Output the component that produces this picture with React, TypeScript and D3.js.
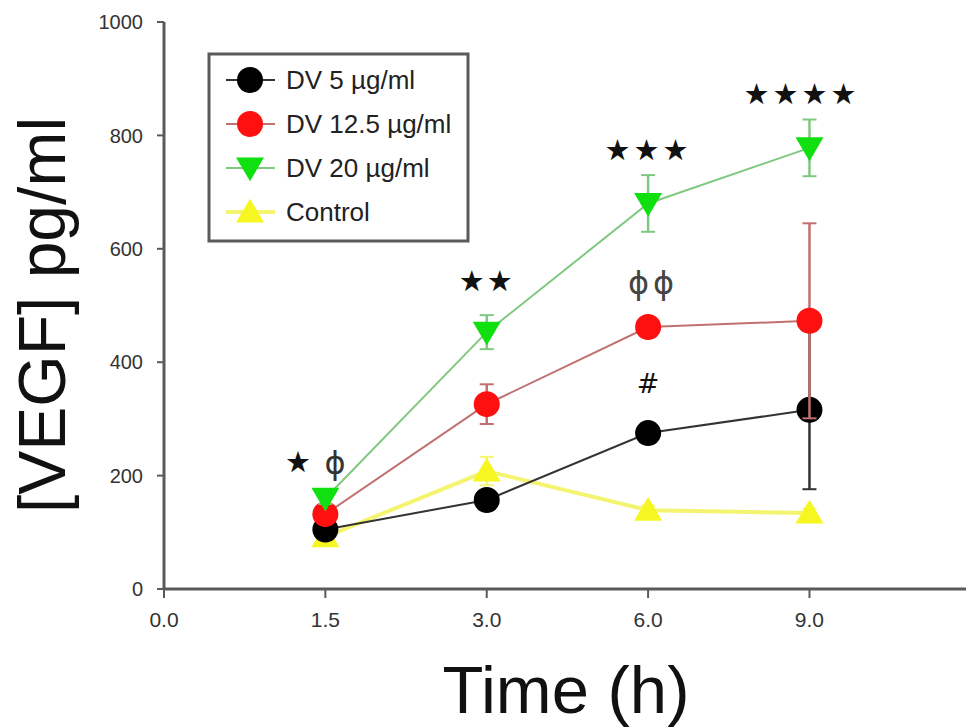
import React from "react";
import * as d3 from "d3";

const xLabels = ["0.0", "1.5", "3.0", "6.0", "9.0"];
const yTicks = [0, 200, 400, 600, 800, 1000];
const seriesNames = ["DV 5 µg/ml", "DV 12.5 µg/ml", "DV 20 µg/ml", "Control"];
// values at 1.5, 3.0, 6.0, 9.0 h
const dv5 = [105, 157, 275, 316];
const dv5Err = [8, 12, 10, 140];
const dv125 = [132, 326, 462, 473];
const dv125Err = [10, 35, 10, 172];
const dv20 = [160, 453, 680, 778];
const dv20Err = [10, 30, 50, 50];
const control = [92, 208, 139, 134];
const controlErr = [8, 25, 8, 8];

const W = 968;
const H = 727;

const styles = [
  { color: "#000000", line: "#333333", lw: 2, shape: "circle" },
  { color: "#ff1010", line: "#c07070", lw: 2, shape: "circle" },
  { color: "#10e010", line: "#80c880", lw: 2, shape: "down" },
  { color: "#f6f620", line: "#f4f470", lw: 4, shape: "up" },
];

export default function App() {
  const x = d3.scaleLinear().domain([0, 4.97]).range([164, 966]);
  const y = d3.scaleLinear().domain([0, 1000]).range([589, 22]);
  const series = [
    { name: seriesNames[0], v: dv5, e: dv5Err },
    { name: seriesNames[1], v: dv125, e: dv125Err },
    { name: seriesNames[2], v: dv20, e: dv20Err },
    { name: seriesNames[3], v: control, e: controlErr },
  ];
  const line = d3
    .line<number>()
    .x((_, i) => x(i + 1))
    .y((d) => y(d));
  const axisColor = "#5a5a5a";
  const font = "Liberation Sans, Arial, sans-serif";

  const marker = (shape: string, cx: number, cy: number, fill: string, key: string) => {
    if (shape === "circle")
      return <circle key={key} cx={cx} cy={cy} r={13} fill={fill} />;
    const s = 14;
    if (shape === "down")
      return (
        <path key={key} d={`M${cx - s},${cy - s * 0.75} L${cx + s},${cy - s * 0.75} L${cx},${cy + s * 0.95} Z`} fill={fill} />
      );
    return (
      <path key={key} d={`M${cx - s},${cy + s * 0.75} L${cx + s},${cy + s * 0.75} L${cx},${cy - s * 0.95} Z`} fill={fill} />
    );
  };

  // draw order: control bottom, then black, red, green
  const order = [3, 0, 1, 2];

  return (
    <svg width={W} height={H} style={{ position: "absolute", left: 0, top: 0, background: "#fff" }}>
      {/* axes */}
      <line x1={164} x2={164} y1={y(1000)} y2={y(0)} stroke={axisColor} strokeWidth={3} />
      <line x1={164} x2={966} y1={y(0)} y2={y(0)} stroke={axisColor} strokeWidth={3} />
      {yTicks.map((t) => (
        <g key={"yt" + t}>
          <line x1={157} x2={164} y1={y(t)} y2={y(t)} stroke={axisColor} strokeWidth={2} />
          <text x={143} y={y(t)} dy="0.36em" textAnchor="end" fontFamily={font} fontSize={20} fill="#333">
            {t}
          </text>
        </g>
      ))}
      {xLabels.map((l, i) => (
        <g key={"xt" + l}>
          <line x1={x(i)} x2={x(i)} y1={y(0)} y2={y(0) + 9} stroke={axisColor} strokeWidth={2} />
          <text x={x(i)} y={y(0) + 38} textAnchor="middle" fontFamily={font} fontSize={21} fill="#333">
            {l}
          </text>
        </g>
      ))}

      {/* series */}
      {order.map((si) => {
        const s = series[si];
        const st = styles[si];
        return (
          <g key={"s" + si}>
            <path d={line(s.v) || ""} fill="none" stroke={st.line} strokeWidth={st.lw} />
            {s.v.map((v, i) => (
              <g key={"e" + i}>
                <line x1={x(i + 1)} x2={x(i + 1)} y1={y(v - s.e[i])} y2={y(v + s.e[i])} stroke={st.line} strokeWidth={2.5} />
                <line x1={x(i + 1) - 7} x2={x(i + 1) + 7} y1={y(v + s.e[i])} y2={y(v + s.e[i])} stroke={st.line} strokeWidth={2} />
                <line x1={x(i + 1) - 7} x2={x(i + 1) + 7} y1={y(v - s.e[i])} y2={y(v - s.e[i])} stroke={st.line} strokeWidth={2} />
              </g>
            ))}
            {s.v.map((v, i) => marker(st.shape, x(i + 1), y(v), st.color, "m" + i))}
          </g>
        );
      })}

      {/* annotations */}
      <g fontFamily="DejaVu Sans, sans-serif" fill="#111">
        <text x={298} y={y(225)} dy="0.35em" textAnchor="middle" fontSize={29}>★</text>
        <text x={335} y={y(222)} dy="0.35em" textAnchor="middle" fontSize={32} fill="#333">ϕ</text>
        <text x={x(2)} y={y(543)} dy="0.35em" textAnchor="middle" fontSize={29} letterSpacing={2}>★★</text>
        <text x={x(3)} y={y(775)} dy="0.35em" textAnchor="middle" fontSize={29} letterSpacing={3}>★★★</text>
        <text x={x(4) - 8} y={y(873)} dy="0.35em" textAnchor="middle" fontSize={29} letterSpacing={3}>★★★★</text>
        <text x={x(3) + 5} y={y(540)} dy="0.35em" textAnchor="middle" fontSize={32} letterSpacing={4} fill="#444">ϕϕ</text>
        <text x={x(3)} y={y(363)} dy="0.35em" textAnchor="middle" fontSize={27}>#</text>
      </g>

      {/* legend */}
      <rect x={209} y={54} width={259} height={187} fill="#fff" stroke={axisColor} strokeWidth={3} />
      {seriesNames.map((n, i) => {
        const cy = 80 + i * 44;
        const st = styles[i];
        return (
          <g key={"lg" + i}>
            <line x1={226} x2={275} y1={cy} y2={cy} stroke={st.line} strokeWidth={st.lw} />
            {marker(st.shape, 250, cy, st.color, "lm" + i)}
            <text x={286} y={cy} dy="0.36em" fontFamily={font} fontSize={26} fill="#222">
              {n}
            </text>
          </g>
        );
      })}

      {/* titles */}
      <text x={566} y={713} textAnchor="middle" fontFamily={font} fontSize={67} fill="#111">
        Time (h)
      </text>
      <text
        transform={`translate(65,315) rotate(-90)`}
        textAnchor="middle"
        fontFamily={font}
        fontSize={66}
        fill="#111"
      >
        [VEGF] pg/ml
      </text>
    </svg>
  );
}
